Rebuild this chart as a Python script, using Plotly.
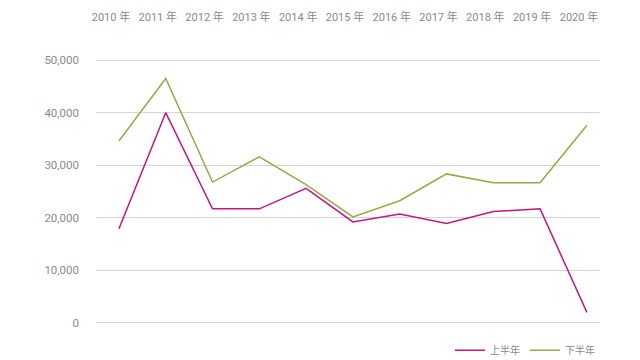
import plotly.graph_objects as go

years = ["2010 年", "2011 年", "2012 年", "2013 年", "2014 年", "2015 年",
         "2016 年", "2017 年", "2018 年", "2019 年", "2020 年"]
first_half = [17900, 40000, 21700, 21700, 25600, 19200, 20700, 18900, 21200, 21700, 2000]
second_half = [34600, 46500, 26800, 31600, 26300, 20150, 23250, 28350, 26650, 26650, 37600]
y_ticks = [0, 10000, 20000, 30000, 40000, 50000]

idx = list(range(len(years)))

fig = go.Figure()
fig.add_trace(go.Scatter(x=idx, y=first_half, mode="lines", name="上半年",
                         line=dict(color="#C2177F", width=1.5)))
fig.add_trace(go.Scatter(x=idx, y=second_half, mode="lines", name="下半年",
                         line=dict(color="#9CA547", width=1.5)))

font_family = "Roboto, 'Noto Sans CJK SC', sans-serif"
fig.update_layout(
    width=640, height=360,
    margin=dict(l=96, r=40, t=58, b=35, autoexpand=False),
    paper_bgcolor="white", plot_bgcolor="white",
    font=dict(family=font_family, color="#8a8a8a", size=11),
    showlegend=True,
    legend=dict(orientation="h", x=1.0, xanchor="right", y=-0.095, yanchor="middle",
                font=dict(size=10, color="#8a8a8a"), bgcolor="rgba(0,0,0,0)",
                itemwidth=30, tracegroupgap=0),
    xaxis=dict(side="top", range=[-0.49, 10.28], automargin=False,
               tickvals=[i - 0.17 for i in idx], ticktext=years,
               showgrid=False, zeroline=False, showline=False, ticks="",
               ticklabelstandoff=34, tickfont=dict(size=11, color="#8a8a8a")),
    yaxis=dict(range=[-400, 50400], tickvals=y_ticks, automargin=False,
               ticktext=[f"{v:,}" for v in y_ticks],
               showgrid=True, gridcolor="#d4d4d4", gridwidth=1,
               zeroline=False, showline=False, ticks="",
               ticklabelstandoff=16, tickfont=dict(size=11.5, color="#8a8a8a")),
)

fig.write_html("out.html", config={"displayModeBar": False},
               post_script="document.body.style.margin='0';document.body.style.overflow='hidden';")
